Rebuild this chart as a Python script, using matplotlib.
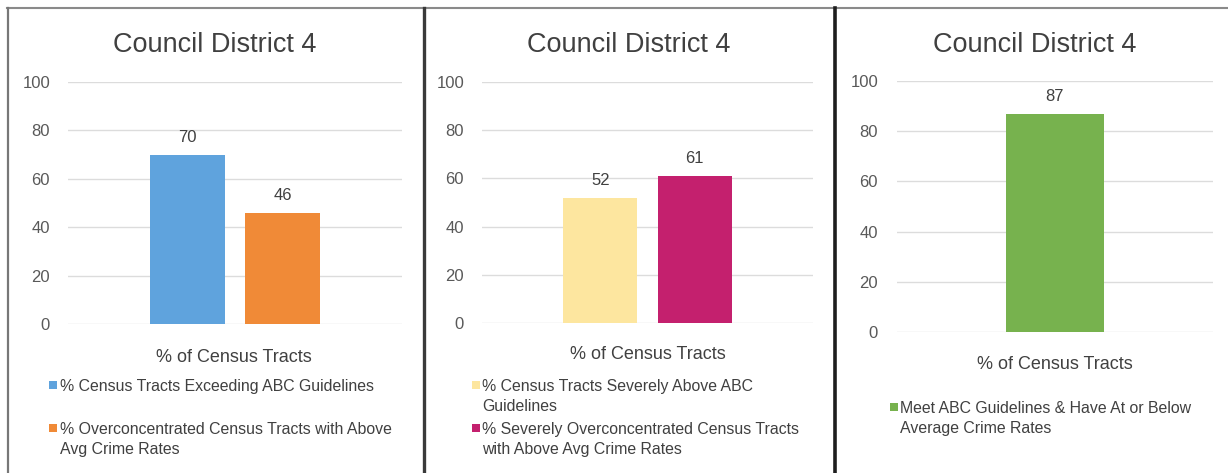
import matplotlib
matplotlib.use("Agg")
import matplotlib.pyplot as plt
from matplotlib.lines import Line2D
from matplotlib.patches import Rectangle

plt.rcParams['font.family'] = ['Liberation Sans', 'DejaVu Sans']

W, H = 1228, 473
DPI = 100

title = "Council District 4"
xlabel = "% of Census Tracts"
yticks = [0, 20, 40, 60, 80, 100]

p1_labels = ["% Census Tracts Exceeding ABC Guidelines",
             "% Overconcentrated Census Tracts with Above\nAvg Crime Rates"]
p1_values = [70, 46]
p1_colors = ["#5fa3dd", "#f08a37"]

p2_labels = ["% Census Tracts Severely Above ABC\nGuidelines",
             "% Severely Overconcentrated Census Tracts\nwith Above Avg Crime Rates"]
p2_values = [52, 61]
p2_colors = ["#fde69f", "#c4206e"]

p3_labels = ["Meet ABC Guidelines & Have At or Below\nAverage Crime Rates"]
p3_values = [87]
p3_colors = ["#77b24e"]

fig = plt.figure(figsize=(W / DPI, H / DPI), dpi=DPI)
fig.patch.set_facecolor("white")


def fx(px):
    return px / W


def fy(py):
    return 1 - py / H


def make_axes(left, right, top, bottom):
    return fig.add_axes([fx(left), fy(bottom), fx(right) - fx(left), fy(top) - fy(bottom)])


TEXT = "#404040"
LINE_STEP = 20      # px between legend lines
LEG_FS = 11.4
CAP_HALF = 5.7      # half cap-height of legend text in px

panels = [
    dict(box=(68, 402, 82, 324), values=p1_values, colors=p1_colors, labels=p1_labels,
         width=0.78, xlim=(-1.25, 2.25), title_x=215, xlabel_xy=(234, 361.5),
         sq_x=49, txt_x=60, entry_y=[385, 428], tick_right=50),
    dict(box=(482, 813, 82, 323), values=p2_values, colors=p2_colors, labels=p2_labels,
         width=0.78, xlim=(-1.25, 2.25), title_x=629, xlabel_xy=(648, 358.5),
         sq_x=472, txt_x=482, entry_y=[385, 428], tick_right=464),
    dict(box=(897, 1213, 81, 332), values=p3_values, colors=p3_colors, labels=p3_labels,
         width=1.0, xlim=(-1.596, 1.596), title_x=1035, xlabel_xy=(1055, 368.5),
         sq_x=890, txt_x=900, entry_y=[407], tick_right=878),
]

for p in panels:
    left, right, top, bottom = p["box"]
    ax = make_axes(left, right, top, bottom)
    n = len(p["values"])
    xs = list(range(n))
    bars = ax.bar(xs, p["values"], width=p["width"], color=p["colors"], zorder=3)
    ax.bar_label(bars, labels=[str(v) for v in p["values"]], padding=7,
                 fontsize=12, color=TEXT)
    ax.set_ylim(0, 100)
    ax.set_xlim(*p["xlim"])
    ax.set_yticks(yticks)
    ax.set_xticks([])
    ax.grid(axis="y", color="#dcdcdc", linewidth=1.0, zorder=0)
    for s in ax.spines.values():
        s.set_visible(False)
    ax.tick_params(axis="y", length=0, labelsize=12, labelcolor="#595959",
                   pad=(left - p["tick_right"]) * 72 / DPI)
    ax.set_facecolor("none")

    fig.text(fx(p["title_x"]), fy(52), title, ha="center", va="baseline",
             fontsize=19.5, color=TEXT)
    fig.text(fx(p["xlabel_xy"][0]), fy(p["xlabel_xy"][1]), xlabel, ha="center",
             va="baseline", fontsize=13, color=TEXT)

    # legend: small square + wrapped label, square aligned with first line
    for label, color, y0 in zip(p["labels"], p["colors"], p["entry_y"]):
        sq = 8
        fig.add_artist(Rectangle((fx(p["sq_x"]), fy(y0 + sq / 2)), sq / W, sq / H,
                                 transform=fig.transFigure, facecolor=color,
                                 edgecolor="none"))
        for i, line in enumerate(label.split("\n")):
            fig.text(fx(p["txt_x"]), fy(y0 + i * LINE_STEP + CAP_HALF), line,
                     ha="left", va="baseline", fontsize=LEG_FS, color=TEXT)

# frame lines
fig.add_artist(Line2D([fx(7), fx(1228)], [fy(8), fy(8)], color="#8a8a8a", linewidth=1.5))
fig.add_artist(Line2D([fx(8), fx(8)], [fy(8), fy(473)], color="#777777", linewidth=1.6))
fig.add_artist(Line2D([fx(423.5), fx(423.5)], [fy(8), fy(473)], color="#3a3a3a", linewidth=2.4))
fig.add_artist(Line2D([fx(835), fx(835)], [fy(8), fy(473)], color="#1e1e1e", linewidth=2.6))

fig.savefig("out.png", dpi=DPI)
